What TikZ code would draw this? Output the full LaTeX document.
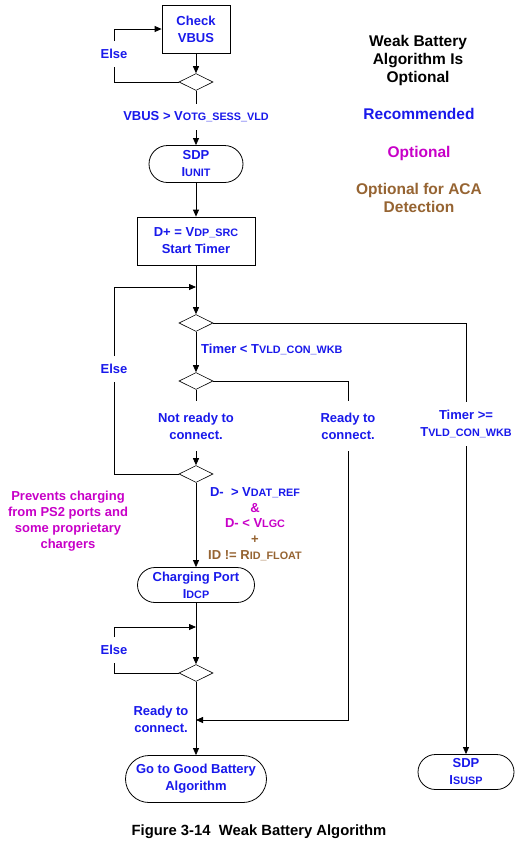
\documentclass[tikz,border=0pt]{standalone}
\usepackage{fontspec}
\setmainfont{Liberation Sans}
\usetikzlibrary{shapes.geometric,shapes.misc,arrows.meta}
\definecolor{fblue}{RGB}{25,25,235}
\definecolor{fmag}{RGB}{200,0,200}
\definecolor{fbrown}{RGB}{150,100,50}
\newcommand{\sbs}[1]{{\fontsize{10.8}{11}\selectfont #1}}
\begin{document}
\begin{tikzpicture}[x=1pt,y=-1pt,
  every node/.style={font=\fontsize{13}{17}\selectfont\bfseries, text=fblue},
  proc/.style={draw, line width=0.8pt, align=center, inner sep=0pt},
  term/.style={draw, rounded rectangle, line width=0.8pt, align=center, inner sep=0pt},
  dec/.style={draw, diamond, minimum width=34pt, minimum height=17pt, inner sep=0pt, line width=0.6pt},
  lbl/.style={align=center, inner xsep=2pt},
  legend/.style={align=center, font=\fontsize{15.5}{18}\selectfont\bfseries},
  conn/.style={line width=0.8pt},
  arr/.style={conn, -{Triangle[length=7pt,width=6pt]}},
]
\useasboundingbox (0,0) rectangle (518,847);
\fill[white] (0,0) rectangle (518,847);

% main column
\node[proc, minimum width=68pt, minimum height=48pt] (check) at (196,29) {Check\\VBUS};
\node[dec] (d1) at (196,82) {};
\node[lbl, inner ysep=8pt] (e1) at (114,54) {Else};
\node[lbl, inner ysep=8pt] (lv) at (196,117) {VBUS > V\sbs{OTG\_SESS\_VLD}};
\node[term, minimum width=94pt, minimum height=37pt] (sdp1) at (196,164) {SDP\\I\sbs{UNIT}};
\node[proc, minimum width=118pt, minimum height=48pt] (dp) at (196,241) {D+ = V\sbs{DP\_SRC}\\Start Timer};
\coordinate (j1) at (196,287);
\node[dec] (d2) at (196,323) {};
\node[lbl, anchor=west, inner sep=1pt] (lt1) at (200,349) {Timer < T\sbs{VLD\_CON\_WKB}};
\node[dec] (d3) at (196,381) {};
\node[lbl, inner ysep=12pt] (lnr) at (196,426) {Not ready to\\connect.};
\node[lbl, inner ysep=12pt] (lr) at (348,426) {Ready to\\connect.};
\node[lbl, inner ysep=8pt] (lt) at (466,424) {Timer >=\\T\sbs{VLD\_CON\_WKB}};
\node[lbl, inner ysep=8pt] (e2) at (114,369) {Else};
\node[dec] (d4) at (196,474) {};
\node[align=center, font=\fontsize{13}{15.75}\selectfont\bfseries] (cond) at (255,524)
  {D-\ \ > V\sbs{DAT\_REF}\\{\color{fmag}\&}\\{\color{fmag}D- < V\sbs{LGC}}\\{\color{fbrown}+}\\{\color{fbrown}ID != R\sbs{ID\_FLOAT}}};
\node[align=center, text=fmag, font=\fontsize{13}{16}\selectfont\bfseries] (prev) at (68,521)
  {Prevents charging\\from PS2 ports and\\some proprietary\\chargers};
\node[term, minimum width=117pt, minimum height=35pt] (cp) at (196,585) {Charging Port\\I\sbs{DCP}};
\coordinate (j2) at (196,627);
\node[dec] (d5) at (196,673) {};
\node[lbl, inner ysep=8pt] (e3) at (114,650) {Else};
\node[lbl] (lr2) at (161,719) {Ready to\\connect.};
\coordinate (j3) at (196,720);
\node[term, minimum width=141pt, minimum height=47pt] (gb) at (196,779) {Go to Good Battery\\Algorithm};
\node[term, minimum width=96pt, minimum height=35pt] (sdp2) at (466,772) {SDP\\I\sbs{SUSP}};

% legend
\node[legend, text=black] (lg1) at (418,60) {Weak Battery\\Algorithm Is\\Optional};
\node[legend, text=fblue] (lg2) at (419,113.5) {Recommended};
\node[legend, text=fmag] (lg3) at (419,153) {Optional};
\node[legend, text=fbrown] (lg4) at (419,197.5) {Optional for ACA\\Detection};

% caption
\node[text=black, font=\fontsize{14.8}{17}\selectfont\bfseries] (cap) at (259,832) {Figure 3-14\ \ Weak Battery Algorithm};

% connectors
\draw[arr] (check.south) -- (d1.north);
\draw[conn] (d1.west) -| (e1.south);
\draw[arr] (e1.north) |- (check.west);
\draw[conn] (d1.south) -- (lv.north);
\draw[arr] (lv.south) -- (sdp1.north);
\draw[arr] (sdp1.south) -- (dp.north);
\draw[arr] (dp.south) -- (d2.north);
\draw[conn] (d4.west) -| (e2.south);
\draw[arr] (e2.north) |- (j1);
\draw[arr] (d2.south) -- (d3.north);
\draw[conn] (d2.east) -| (lt.north);
\draw[arr] (lt.south) -- (sdp2.north);
\draw[conn] (d3.east) -| (lr.north);
\draw[arr] (lr.south) |- (j3);
\draw[conn] (d3.south) -- (lnr.north);
\draw[arr] (lnr.south) -- (d4.north);
\draw[arr] (d4.south) -- (cp.north);
\draw[arr] (cp.south) -- (d5.north);
\draw[conn] (d5.west) -| (e3.south);
\draw[arr] (e3.north) |- (j2);
\draw[arr] (d5.south) -- (gb.north);
\end{tikzpicture}
\end{document}
